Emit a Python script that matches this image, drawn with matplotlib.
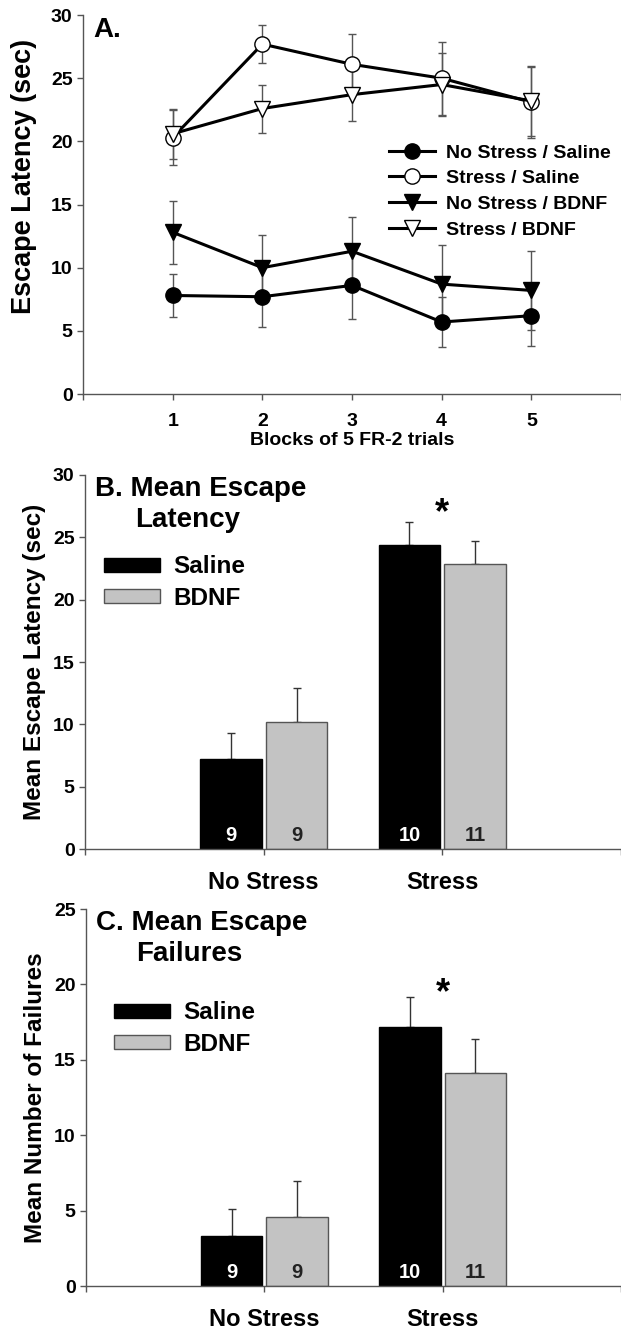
import numpy as np
import matplotlib
matplotlib.use('Agg')
import matplotlib.pyplot as plt

plt.rcParams['font.family'] = ['Liberation Sans', 'DejaVu Sans']
plt.rcParams['font.weight'] = 'bold'

# panel A: escape latency per block
blocks = [1, 2, 3, 4, 5]
ns_saline = [7.8, 7.7, 8.6, 5.7, 6.2]
ns_saline_err = [1.7, 2.4, 2.7, 2.0, 2.4]
s_saline = [20.3, 27.7, 26.1, 25.0, 23.1]
s_saline_err = [2.2, 1.5, 2.4, 2.9, 2.8]
ns_bdnf = [12.8, 10.0, 11.3, 8.7, 8.2]
ns_bdnf_err = [2.5, 2.6, 2.7, 3.1, 3.1]
s_bdnf = [20.6, 22.6, 23.7, 24.5, 23.2]
s_bdnf_err = [2.0, 1.9, 2.1, 2.5, 2.8]

# panels B and C: group means
groups = ['No Stress', 'Stress']
latency_saline = [7.2, 24.4]
latency_saline_err = [2.1, 1.8]
latency_bdnf = [10.2, 22.9]
latency_bdnf_err = [2.7, 1.8]
failures_saline = [3.3, 17.2]
failures_saline_err = [1.8, 2.0]
failures_bdnf = [4.6, 14.1]
failures_bdnf_err = [2.35, 2.3]
n_saline = [9, 10]
n_bdnf = [9, 11]

axis_color = '#555555'
gray = '#c3c3c3'

fig = plt.figure(figsize=(6.21, 13.32), dpi=100)
axA = fig.add_axes([0.1337, 0.7042, 0.8663, 0.2845])
axB = fig.add_axes([0.1369, 0.3626, 0.8631, 0.2808])
axC = fig.add_axes([0.1385, 0.0345, 0.8615, 0.2830])


def style(ax):
    for s in ['top', 'right']:
        ax.spines[s].set_visible(False)
    for s in ['left', 'bottom']:
        ax.spines[s].set_color(axis_color)
        ax.spines[s].set_linewidth(1.0)
    ax.tick_params(direction='out', length=4, width=1.0, color=axis_color,
                   labelsize=14)
    for lab in ax.get_yticklabels():
        lab.set_fontweight('bold')


# ---- A ----
series = [
    (ns_saline, ns_saline_err, 'o', 'black', 'No Stress / Saline'),
    (s_saline, s_saline_err, 'o', 'white', 'Stress / Saline'),
    (ns_bdnf, ns_bdnf_err, 'v', 'black', 'No Stress / BDNF'),
    (s_bdnf, s_bdnf_err, 'v', 'white', 'Stress / BDNF'),
]
for y, e, m, fc, lab in series:
    axA.errorbar(blocks, y, yerr=e, fmt='none', ecolor=axis_color,
                 elinewidth=1.0, capsize=3, capthick=1.0, zorder=2)
    axA.plot(blocks, y, color='black', lw=2.2, marker=m, markersize=11,
             markerfacecolor=fc, markeredgecolor='black', markeredgewidth=1.0,
             label=lab, zorder=3)

axA.set_xlim(0, 6)
axA.set_ylim(0, 30)
axA.set_xticks(range(0, 7))
axA.set_xticklabels(['', '1', '2', '3', '4', '5', ''], fontweight='bold')
axA.set_yticks(range(0, 31, 5))
axA.set_xlabel('Blocks of 5 FR-2 trials', fontsize=14, fontweight='bold',
               labelpad=1)
axA.set_ylabel('Escape Latency (sec)', fontsize=19.5, fontweight='bold')
style(axA)
axA.yaxis.set_label_coords(-0.085, 0.573)
axA.tick_params(axis='x', pad=10)
axA.text(0.019, 0.995, 'A.', transform=axA.transAxes, fontsize=20,
         fontweight='bold', va='top', ha='left')
axA.legend(loc='upper left', bbox_to_anchor=(0.568, 0.66), frameon=False,
           handlelength=2.4, handletextpad=0.55,
           labelspacing=0.42, borderpad=0, borderaxespad=0,
           prop={'weight': 'bold', 'size': 14})


# ---- B and C ----
def bar_panel(ax, saline, saline_err, bdnf, bdnf_err, ymax, ystep, title1,
              title2, ylabel, star_y, leg_anchor):
    x = np.arange(1, len(groups) + 1)
    w = 0.345
    off = 0.184
    ax.bar(x - off, saline, w, color='black', edgecolor='black', lw=1,
           label='Saline', zorder=2)
    ax.bar(x + off, bdnf, w, color=gray, edgecolor=axis_color, lw=1,
           label='BDNF', zorder=2)
    ax.errorbar(x - off, saline, yerr=[np.zeros(len(x)), saline_err],
                fmt='none', ecolor='#333333', elinewidth=1.0, capsize=3,
                capthick=1.0, zorder=1)
    ax.errorbar(x + off, bdnf, yerr=[np.zeros(len(x)), bdnf_err],
                fmt='none', ecolor='#333333', elinewidth=1.0, capsize=3,
                capthick=1.0, zorder=1)
    for i in range(len(x)):
        ax.text(x[i] - off, ymax * 0.036, str(n_saline[i]), color='white',
                fontsize=14.5, fontweight='bold', ha='center', va='center')
        ax.text(x[i] + off, ymax * 0.036, str(n_bdnf[i]), color='#222222',
                fontsize=14.5, fontweight='bold', ha='center', va='center')
    ax.text(2, star_y, '*', fontsize=26, fontweight='bold', ha='center',
            va='center')
    ax.set_xlim(0, 3)
    ax.set_ylim(0, ymax)
    ax.set_xticks([0, 1, 2, 3])
    ax.set_xticklabels(['', groups[0], groups[1], ''], fontweight='bold')
    ax.set_yticks(np.arange(0, ymax + 1, ystep))
    ax.set_ylabel(ylabel, fontsize=17.5, fontweight='bold', labelpad=5)
    style(ax)
    ax.tick_params(axis='x', labelsize=17, pad=12)
    ax.text(0.019, 0.998, title1, transform=ax.transAxes, fontsize=20,
            fontweight='bold', va='top', ha='left')
    ax.text(0.093, 0.915, title2, transform=ax.transAxes, fontsize=20,
            fontweight='bold', va='top', ha='left')
    ax.legend(loc='upper left', bbox_to_anchor=leg_anchor, frameon=False,
              handlelength=2.3, handleheight=0.5, handletextpad=0.55,
              labelspacing=0.35, borderpad=0, borderaxespad=0,
              prop={'weight': 'bold', 'size': 17.5})


bar_panel(axB, latency_saline, latency_saline_err, latency_bdnf,
          latency_bdnf_err, 30, 5, 'B. Mean Escape', 'Latency',
          'Mean Escape Latency (sec)', 26.9, (0.035, 0.785))
bar_panel(axC, failures_saline, failures_saline_err, failures_bdnf,
          failures_bdnf_err, 25, 5, 'C. Mean Escape', 'Failures',
          'Mean Number of Failures', 19.4, (0.052, 0.755))

fig.savefig('out.png', dpi=100)
